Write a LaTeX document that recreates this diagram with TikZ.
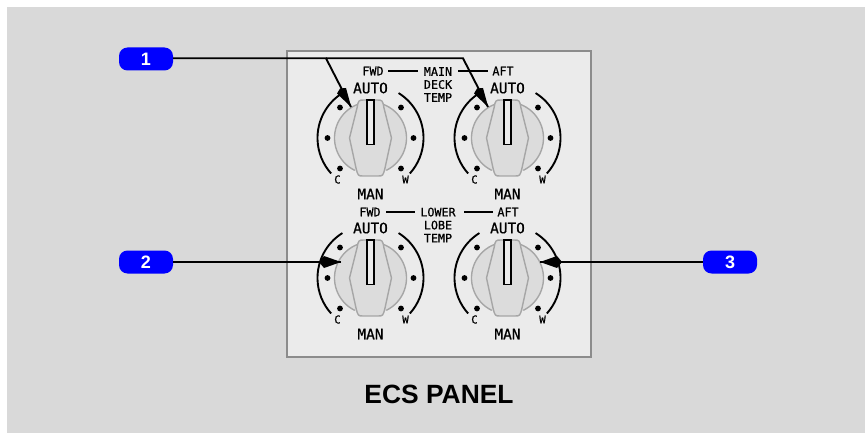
\documentclass[tikz,border=0pt]{standalone}
\usepackage{fontspec}
\setmainfont{Liberation Sans}
\newfontfamily\panelfont{DejaVu Sans Mono}[Scale=0.9,FakeBold=0.6]
\definecolor{bgg}{HTML}{D9D9D9}
\definecolor{panelg}{HTML}{EBEBEB}
\definecolor{edgeg}{HTML}{8C8C8C}
\definecolor{knobg}{HTML}{DCDCDC}
\definecolor{ringg}{HTML}{A6A6A6}
\definecolor{callb}{HTML}{0000FF}
\tikzset{
 x=1pt,y=-1pt,
 callout/.style={draw=none,fill=callb,rounded corners=8.5pt,minimum width=54pt,minimum height=23pt,inner sep=0pt,text=white,font=\fontsize{18}{18}\bfseries\selectfont},
 leader/.style={line width=1.9pt,black},
 ptag/.style={inner sep=0pt,font=\panelfont\fontsize{13}{14}\selectfont,align=center},
 ptagb/.style={inner sep=0pt,font=\panelfont\fontsize{16}{16}\selectfont},
 ptags/.style={inner sep=0pt,font=\panelfont\fontsize{12}{13}\selectfont,align=center},
}
\newcommand{\knob}[3]{%
 \begin{scope}[shift={(#1,#2)}]
 \fill[knobg] (0,0) circle[radius=36];
 \draw[ringg,line width=1.4pt] (250:36) arc[start angle=250,end angle=116,radius=36];
 \draw[ringg,line width=1.4pt] (-70:36) arc[start angle=-70,end angle=64,radius=36];
 \draw[ringg,fill=knobg,line width=1.4pt,line join=round] (-21,0) -- (-13.5,-30) .. controls (-12,-38) .. (-6,-38) -- (6,-38) .. controls (12,-38) .. (13.5,-30) -- (21,0) -- (14.5,30) .. controls (12.5,38) .. (7,38) -- (-7,38) .. controls (-12.5,38) .. (-14.5,30) -- cycle;
 \draw[black,line width=1.8pt,fill=panelg] (-3.5,-38) rectangle (3.5,6.5);
 \draw[black,line width=1.9pt] (238:53) arc[start angle=238,end angle=138,radius=53];
 \draw[black,line width=1.9pt] (-58:53) arc[start angle=-58,end angle=42,radius=53];
 \foreach \p in {(-30.5,-30.5),(-43,0),(-30.5,30.5),(30.5,-30.5),(43,0),(30.5,30.5)} \fill[black] \p circle[radius=2.9];
 \node[ptagb] at (0,-50) {AUTO};
 \node[ptagb] at (0,56) {MAN};
 \node[ptags] at (-33,41.5) {C};
 \node[ptags] at (35,41.5) {W};
 \end{scope}}
\begin{document}
\begin{tikzpicture}
\useasboundingbox (0,0) rectangle (865,433);
\fill[white] (0,0) rectangle (865,433);
\fill[bgg] (7,7) rectangle (865,433);
\draw[edgeg,fill=panelg,line width=2.2pt] (287,51) rectangle (591,357);
\knob{370.5}{138}{}
\knob{507.5}{138}{}
\knob{370.5}{278}{}
\knob{507.5}{278}{}
\node[ptag] (fwd1) at (373,71) {FWD};
\node[ptag] (aft1) at (503,71) {AFT};
\node[ptag] (main) at (438,84.5) {MAIN\\[-1pt]DECK\\[-1pt]TEMP};
\node[ptag] (fwd2) at (370,212) {FWD};
\node[ptag] (aft2) at (508,212) {AFT};
\node[ptag] (lower) at (438,225) {LOWER\\[-1pt]LOBE\\[-1pt]TEMP};
\coordinate (ma) at (418,71);
\coordinate (mb) at (458,71);
\coordinate (la) at (415,212);
\coordinate (lb) at (464,212);
\draw[leader] (388,71) -- (ma);
\draw[leader] (mb) -- (488,71);
\draw[leader] (386,212) -- (la);
\draw[leader] (lb) -- (493,212);
\node[callout] (c1) at (146,59) {1};
\node[callout] (c2) at (146,262) {2};
\node[callout] (c3) at (730,262) {3};
\coordinate (b1) at (326,58.3);
\coordinate (t1) at (351,107);
\coordinate (b2) at (463,58.3);
\coordinate (t2) at (488,107);
\coordinate (t3) at (341,262);
\coordinate (t4) at (540,262);
\draw[leader] (c1.east |- b1) -- (b1) -- (t1);
\draw[leader] (b1) -- (b2) -- (t2);
\draw[leader] (c2.east) -- (t3);
\draw[leader] (c3.west) -- (t4);
\fill (t1) -- ++(-14,-13.5) -- ++(3,-5) -- ++(6,-.5) -- ++(3,11) -- cycle;
\fill (t2) -- ++(-14,-13.5) -- ++(3,-5) -- ++(6,-.5) -- ++(3,11) -- cycle;
\fill (t3) -- ++(-17,-6) -- ++(-5,6) -- ++(5,6) -- cycle;
\fill (t4) -- ++(17,-6) -- ++(5,6) -- ++(-5,6) -- cycle;
\node[inner sep=0pt,font=\fontsize{26.4}{26.4}\bfseries\selectfont] (title) at (439,394) {ECS PANEL};
\end{tikzpicture}
\end{document}
